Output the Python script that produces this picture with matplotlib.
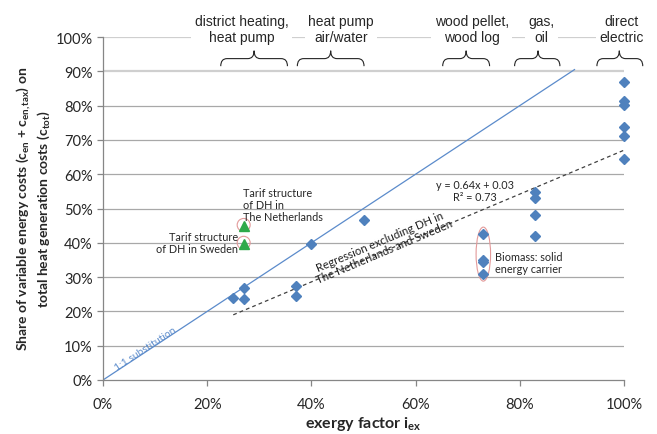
import matplotlib
matplotlib.use("Agg")
import matplotlib.pyplot as plt
from matplotlib.patches import Ellipse, PathPatch
from matplotlib.path import Path
from matplotlib.ticker import PercentFormatter

plt.rcParams["mathtext.fontset"] = "custom"
plt.rcParams["mathtext.rm"] = "Lato"
plt.rcParams["mathtext.bf"] = "Lato:bold"
plt.rcParams["mathtext.it"] = "Lato:italic"

# Heating technologies: exergy factor vs. share of variable energy costs
dh_x = [0.25, 0.27, 0.27]
dh_y = [0.240, 0.267, 0.235]
hp_x = [0.37, 0.37, 0.40, 0.50]
hp_y = [0.275, 0.245, 0.396, 0.467]
bio_x = [0.73, 0.73, 0.73, 0.73]
bio_y = [0.425, 0.350, 0.343, 0.308]
gas_x = [0.83, 0.83, 0.83, 0.83]
gas_y = [0.547, 0.530, 0.481, 0.419]
el_x = [1.0, 1.0, 1.0, 1.0, 1.0, 1.0]
el_y = [0.868, 0.812, 0.803, 0.738, 0.710, 0.645]

# District heating tariff structures (NL, SE)
tariff_x = [0.27, 0.27]
tariff_y = [0.448, 0.396]

# Regression excluding the tariff points
reg_slope, reg_icpt = 0.64, 0.03
reg_x = [0.25, 1.0]
one_x = [0.0, 0.905]

# Technology groups along the top
group_labels = ["district heating,\nheat pump", "heat pump\nair/water",
                "wood pellet,\nwood log", "gas,\noil", "direct\nelectric"]
group_label_x = [0.266, 0.457, 0.708, 0.842, 0.996]
brace_left = [0.226, 0.373, 0.652, 0.790, 0.948]
brace_right = [0.354, 0.501, 0.742, 0.877, 1.036]
brace_mid = [0.290, 0.437, 0.697, 0.835, 0.991]

x_ticks = [0, 0.2, 0.4, 0.6, 0.8, 1.0]
y_ticks = [i / 10 for i in range(11)]

blue = "#4F81BD"
green = "#2EAA4A"
grey = "#868686"
lato = "Lato"

fig = plt.figure(figsize=(6.57, 4.35), dpi=100)
ax = fig.add_axes([103 / 657, 54 / 435, 521 / 657, 343 / 435])
ax.set_xlim(0, 1)
ax.set_ylim(0, 1)

# horizontal gridlines
for yv in y_ticks[1:]:
    if yv >= 0.89:
        ax.axhline(yv, color="#cfcfcf", lw=1.6, zorder=0)
    else:
        ax.axhline(yv, color="#a8a8a8", lw=0.9, zorder=0)

for s in ["top", "right"]:
    ax.spines[s].set_visible(False)
for s in ["left", "bottom"]:
    ax.spines[s].set_color(grey)
    ax.spines[s].set_linewidth(0.9)

ax.set_xticks(x_ticks)
ax.set_yticks(y_ticks)
ax.xaxis.set_major_formatter(PercentFormatter(1.0, decimals=0))
ax.yaxis.set_major_formatter(PercentFormatter(1.0, decimals=0))
ax.tick_params(axis="both", direction="out", length=4, color=grey, width=0.9,
               labelsize=10.5, labelcolor="#262626")
ax.tick_params(axis="x", pad=8)
for lab in ax.get_xticklabels() + ax.get_yticklabels():
    lab.set_fontfamily(lato)

# 1:1 substitution line
ax.plot(one_x, one_x, color="#5B8BCB", lw=0.9, zorder=2)
ax.text(0.081, 0.092, "1:1 substitution", rotation=33.4, rotation_mode="anchor",
        ha="center", va="center", color="#5B8BCB", fontsize=7.5, family=lato)

# regression line
ax.plot(reg_x, [reg_slope * v + reg_icpt for v in reg_x], color="#404040",
        lw=0.9, ls=(0, (3, 2.5)), zorder=2)
ax.text(0.535, 0.390, "Regression excluding DH in\nThe Netherlands and Sweden",
        rotation=23.0, rotation_mode="anchor", ha="center", va="center",
        fontsize=8.2, family=lato, color="#1f1f1f", linespacing=1.05)
ax.text(0.714, 0.552, "y = 0.64x + 0.03\nR² = 0.73", ha="center", va="center",
        fontsize=7.8, family=lato, color="#262626", linespacing=1.15)

# data points
all_x = dh_x + hp_x + bio_x + gas_x + el_x
all_y = dh_y + hp_y + bio_y + gas_y + el_y
ax.plot(all_x, all_y, ls="none", marker="D", ms=5, color=blue, zorder=4,
        clip_on=False)
ax.plot(tariff_x, tariff_y, ls="none", marker="^", ms=7, color=green, zorder=4)

ring = "#E39A9A"
for tx, ty in zip(tariff_x, tariff_y):
    ax.add_patch(Ellipse((tx, ty + 0.004), 13 / 521, 13 / 343, fc="none",
                         ec=ring, lw=0.8, zorder=3))
ax.add_patch(Ellipse((0.73, 0.367), 14.5 / 521, 54 / 343, fc="none", ec=ring,
                     lw=0.8, zorder=3))

ax.text(0.269, 0.512, "Tarif structure\nof DH in\nThe Netherlands", ha="left",
        va="center", fontsize=7.8, family=lato, color="#262626", linespacing=1.1)
ax.text(0.259, 0.402, "Tarif structure\nof DH in Sweden", ha="right",
        va="center", fontsize=7.8, family=lato, color="#262626", linespacing=1.1)
ax.text(0.752, 0.343, "Biomass: solid\nenergy carrier", ha="left",
        va="center", fontsize=7.8, family=lato, color="#262626", linespacing=1.1)

# group labels and braces
for lab, lx in zip(group_labels, group_label_x):
    ax.text(lx, 1.024, lab, ha="center", va="center", fontsize=10,
            family="Liberation Sans", color="#262626", linespacing=1.15,
            bbox=dict(fc="white", ec="none", pad=2.5), zorder=5)

yb, yl, yt = 0.915, 0.937, 0.960
r = 0.012
for x0, x1, xm in zip(brace_left, brace_right, brace_mid):
    verts = [(x0, yb), (x0, yl), (x0 + r, yl),
             (xm - r, yl), (xm, yl), (xm, yt),
             (xm, yl), (xm + r, yl),
             (x1 - r, yl), (x1, yl), (x1, yb)]
    codes = [Path.MOVETO, Path.CURVE3, Path.CURVE3,
             Path.LINETO, Path.CURVE3, Path.CURVE3,
             Path.CURVE3, Path.CURVE3,
             Path.LINETO, Path.CURVE3, Path.CURVE3]
    ax.add_patch(PathPatch(Path(verts, codes), fc="none", ec="#262626",
                           lw=0.8, clip_on=False, zorder=5))

# axis titles
fig.text(363 / 657, 1 - 424 / 435, r"exergy factor $\mathbf{i_{ex}}$",
         ha="center", va="center", fontsize=11.5, family=lato,
         fontweight="bold", color="#262626")
fig.text(33 / 657, 1 - 209 / 435,
         "Share of variable energy costs ($\\mathbf{c_{en}}$ + "
         "$\\mathbf{c_{en,tax}}$) on\ntotal heat generation costs "
         "($\\mathbf{c_{tot}}$)", rotation=90, ha="center", va="center",
         fontsize=10, family=lato, fontweight="bold", color="#262626",
         linespacing=1.2)

fig.savefig("out.png", dpi=100)
